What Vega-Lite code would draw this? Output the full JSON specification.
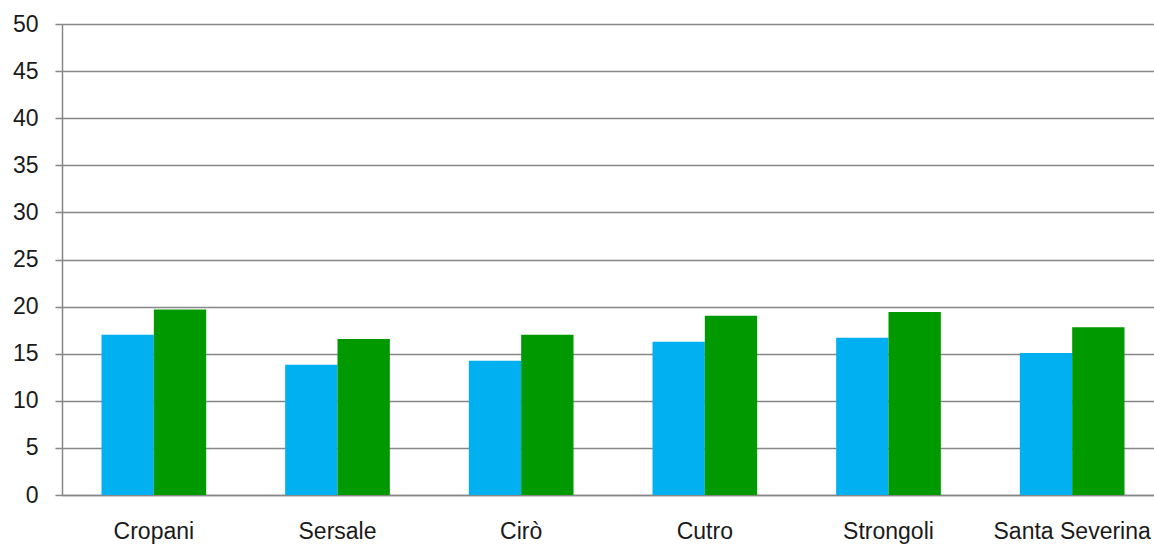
{
  "$schema": "https://vega.github.io/schema/vega-lite/v6.json",
  "width": 1092,
  "height": 471,
  "autosize": "none",
  "padding": {"left": 62, "top": 24, "right": 0, "bottom": 50},
  "background": "white",
  "data": {
    "values": [
      {"comune": "Cropani", "serie": "A", "valore": 17.0},
      {"comune": "Cropani", "serie": "B", "valore": 19.7},
      {"comune": "Sersale", "serie": "A", "valore": 13.83},
      {"comune": "Sersale", "serie": "B", "valore": 16.56},
      {"comune": "Cirò", "serie": "A", "valore": 14.26},
      {"comune": "Cirò", "serie": "B", "valore": 17.0},
      {"comune": "Cutro", "serie": "A", "valore": 16.27},
      {"comune": "Cutro", "serie": "B", "valore": 19.03},
      {"comune": "Strongoli", "serie": "A", "valore": 16.7},
      {"comune": "Strongoli", "serie": "B", "valore": 19.43},
      {"comune": "Santa Severina", "serie": "A", "valore": 15.07},
      {"comune": "Santa Severina", "serie": "B", "valore": 17.8}
    ]
  },
  "mark": {"type": "bar"},
  "encoding": {
    "x": {
      "field": "comune",
      "type": "nominal",
      "sort": null,
      "scale": {"paddingInner": 0.43, "paddingOuter": 0.215, "range": [0, 1102]},
      "axis": {
        "title": null,
        "labelAngle": 0,
        "labelFont": "Liberation Sans",
        "labelFontSize": 23,
        "labelColor": "#1a1a1a",
        "labelBaseline": "alphabetic",
        "labelPadding": 43,
        "labelOverlap": false,
        "ticks": false,
        "domainColor": "#868686",
        "domainWidth": 1.5
      }
    },
    "xOffset": {"field": "serie", "type": "nominal"},
    "y": {
      "field": "valore",
      "type": "quantitative",
      "scale": {"domain": [0, 50]},
      "axis": {
        "title": null,
        "values": [0, 5, 10, 15, 20, 25, 30, 35, 40, 45, 50],
        "labelFont": "Liberation Sans",
        "labelFontSize": 23,
        "labelColor": "#1a1a1a",
        "labelPadding": 17,
        "tickSize": 7,
        "tickColor": "#868686",
        "tickWidth": 1.5,
        "domainColor": "#868686",
        "domainWidth": 1.5,
        "gridColor": "#868686",
        "gridWidth": 1.5
      }
    },
    "color": {
      "field": "serie",
      "type": "nominal",
      "scale": {"domain": ["A", "B"], "range": ["#00B0F0", "#009900"]},
      "legend": null
    }
  },
  "config": {"view": {"stroke": null}}
}
